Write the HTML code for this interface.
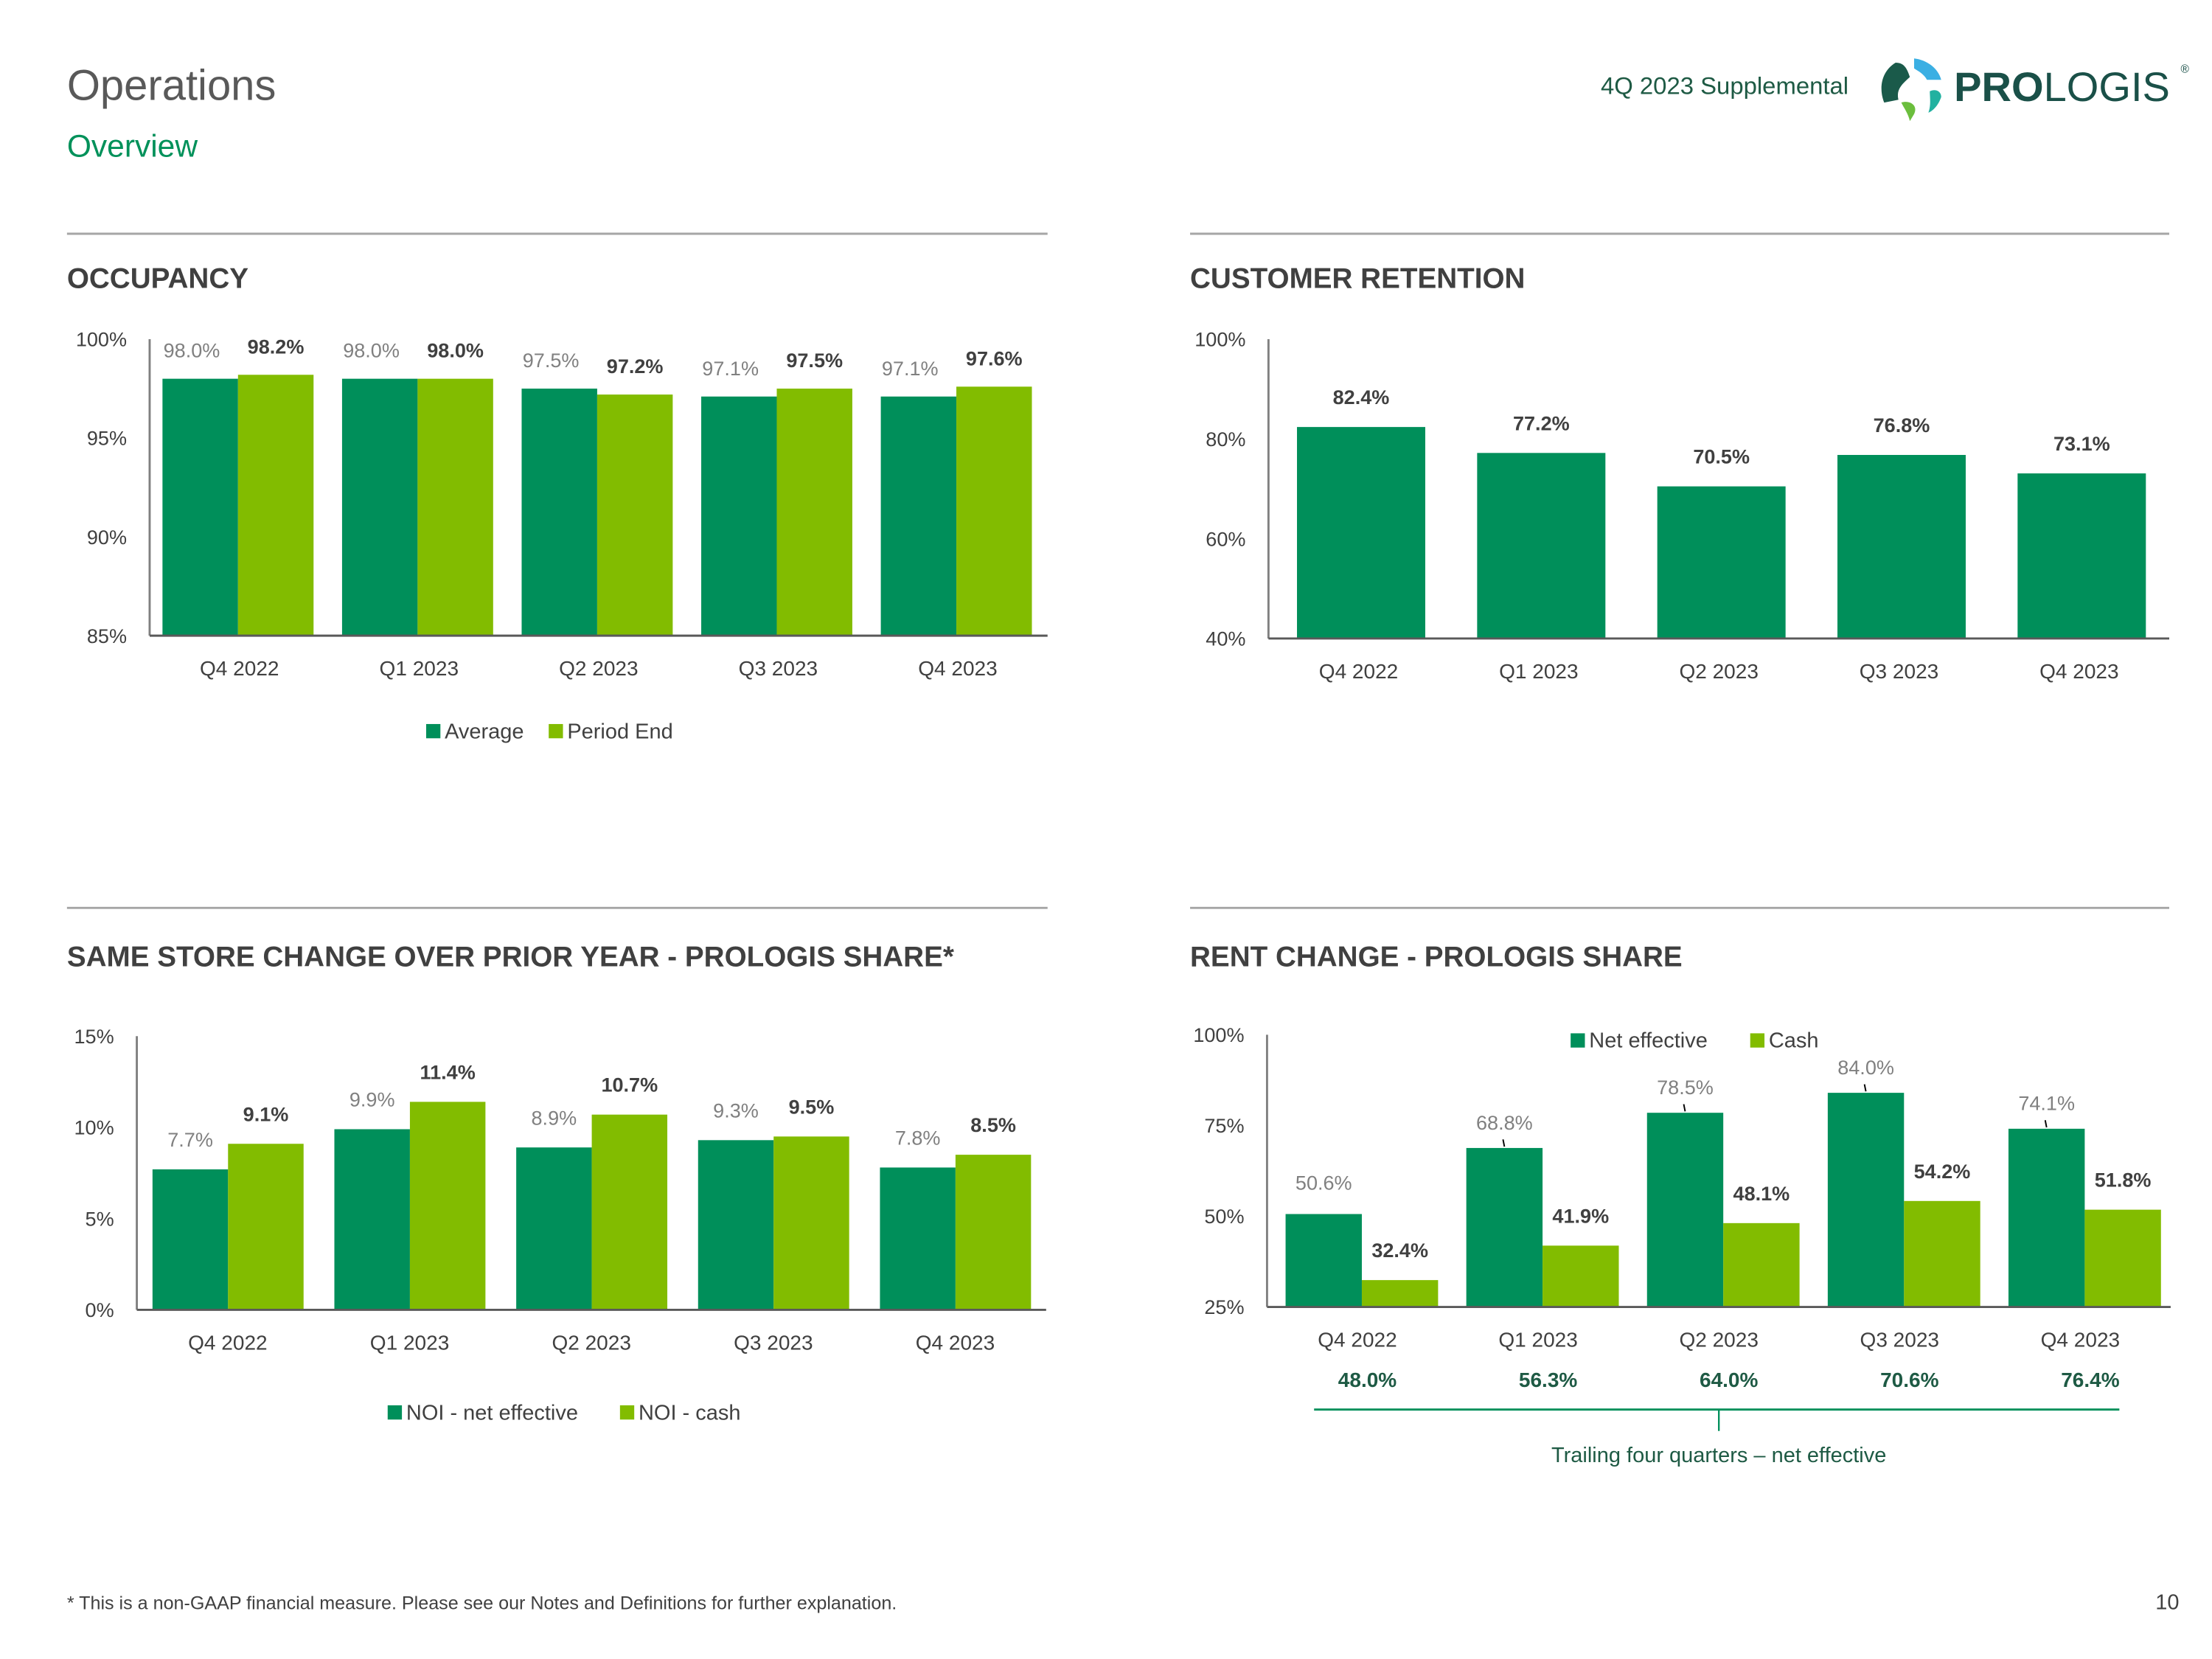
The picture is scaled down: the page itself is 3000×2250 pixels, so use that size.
<!DOCTYPE html>
<html><head><meta charset="utf-8"><style>
html,body{margin:0;padding:0;background:#fff}
svg{display:block;font-family:"Liberation Sans",sans-serif}
</style></head><body>
<svg id="s" width="3000" height="2250" viewBox="0 0 1552 1164" xmlns="http://www.w3.org/2000/svg">
<text x="47" y="70" font-size="30" fill="#595959">Operations</text>
<text x="47" y="110" font-size="22" fill="#00915A">Overview</text>
<text x="1297" y="66" font-size="17" fill="#1E5A44" text-anchor="end">4Q 2023 Supplemental</text>
<g>
<path d="M1330,44 C1320,50 1318,62 1322,72 L1332,70 C1330,62 1336,58 1340,54 C1338,48 1336,44 1330,44Z" fill="#1A5A4A"/>
<path d="M1343,41 C1352,42 1360,48 1362,56 L1352,56 C1350,52 1346,50 1343,48Z" fill="#3BAFE3"/>
<path d="M1354,64 C1358,62 1362,64 1362,68 C1360,74 1356,78 1353,79 C1355,74 1354,68 1354,64Z" fill="#22B1A0"/>
<path d="M1334,72 C1340,70 1346,74 1343,80 L1340,85 C1339,80 1336,76 1334,72Z" fill="#6BBE3D"/>
<text x="1371" y="71" font-size="29" font-weight="bold" fill="#1A5048">PRO<tspan font-weight="normal">LOGIS</tspan></text>
<text x="1530" y="51" font-size="8" fill="#1A5048">®</text>
</g>
<g stroke="#A6A6A6" stroke-width="1.5">
<line x1="47" y1="164" x2="735" y2="164"/><line x1="835" y1="164" x2="1522" y2="164"/>
<line x1="47" y1="637" x2="735" y2="637"/><line x1="835" y1="637" x2="1522" y2="637"/>
</g>
<g font-size="20" font-weight="bold" fill="#404040">
<text x="47" y="202">OCCUPANCY</text>
<text x="835" y="202">CUSTOMER RETENTION</text>
<text x="47" y="678">SAME STORE CHANGE OVER PRIOR YEAR - PROLOGIS SHARE*</text>
<text x="835" y="678">RENT CHANGE - PROLOGIS SHARE</text>
</g>
<text x="47" y="1129" font-size="13" fill="#404040">* This is a non-GAAP financial measure. Please see our Notes and Definitions for further explanation.</text>
<text x="1529" y="1129" font-size="15" fill="#404040" text-anchor="end">10</text>
<g id="charts"></g>
</svg>
<script>
const categories=["Q4 2022","Q1 2023","Q2 2023","Q3 2023","Q4 2023"];
const occAverage=[98.0,98.0,97.5,97.1,97.1];
const occPeriodEnd=[98.2,98.0,97.2,97.5,97.6];
const occTicks=[85,90,95,100];
const retention=[82.4,77.2,70.5,76.8,73.1];
const retTicks=[40,60,80,100];
const noiNet=[7.7,9.9,8.9,9.3,7.8];
const noiCash=[9.1,11.4,10.7,9.5,8.5];
const ssTicks=[0,5,10,15];
const rentNet=[50.6,68.8,78.5,84.0,74.1];
const rentCash=[32.4,41.9,48.1,54.2,51.8];
const rentTicks=[25,50,75,100];
const trailing=[48.0,56.3,64.0,70.6,76.4];

const NS="http://www.w3.org/2000/svg";
const root=document.getElementById('charts');
const DK="#008F5A",LT="#82BC00";
function mk(tag,attrs,parent,txt){const e=document.createElementNS(NS,tag);for(const k in attrs)e.setAttribute(k,attrs[k]);if(txt!==undefined)e.textContent=txt;(parent||root).appendChild(e);return e;}

function chart(cfg){
  const g=mk('g',{});
  
  
  const yS=v=>cfg.y0-(v-cfg.min)/(cfg.max-cfg.min)*(cfg.y0-cfg.y1);
  const gw=(cfg.x1-cfg.x0)/categories.length;
  cfg.ticks.forEach(t=>{
    const tx=mk('text',{x:cfg.x0-16,y:yS(t)+5,'font-size':14,fill:'#404040','text-anchor':'end'},g,t+'%');
    
    
  });
  categories.forEach((c,i)=>{
    const gx=cfg.x0+i*gw;
    cfg.series.forEach((s,j)=>{
      const v=s.values[i];
      const bx=gx+cfg.off+j*cfg.bw;
      const r=mk('rect',{x:bx,y:yS(v),width:cfg.bw,height:cfg.y0-yS(v),fill:s.color},g);
      
      
      const ly=(s.labelY?s.labelY(v,i,yS):yS(v)-15);
      const lx=bx+cfg.bw/2+(s.dx||0);
      const l=mk('text',{x:lx,y:ly,'font-size':14,'font-weight':s.bold?'bold':'normal',fill:s.lc,'text-anchor':'middle'},g,v.toFixed(1)+'%');
      
      
      if(s.leader && i>0){
        mk('line',{x1:lx,y1:yS(v)-1,x2:lx-1,y2:yS(v)-6,stroke:'#000','stroke-width':1},g);
      }
    });
    const cl=mk('text',{x:gx+gw/2,y:cfg.y0+28,'font-size':14.5,fill:'#404040','text-anchor':'middle'},g,c);
    
    
  });
  mk('line',{x1:cfg.x0,y1:cfg.y1,x2:cfg.x0,y2:cfg.y0,stroke:'#808080','stroke-width':1.5},g);
  mk('line',{x1:cfg.x0,y1:cfg.y0,x2:cfg.x1,y2:cfg.y0,stroke:'#595959','stroke-width':1.5},g);
  return {g,yS,gw};
}
function legend(x,y,items,name){
  const g=mk('g',{});
  
  
  let cx=x;
  items.forEach(it=>{
    mk('rect',{x:cx,y:y-10,width:10,height:10,fill:it.c},g);
    const t=mk('text',{x:cx+13,y:y,'font-size':15,fill:'#404040'},g,it.t);
    
    
    cx+=13+it.w;
  });
}
// Occupancy
chart({name:'occupancy-chart',x0:105,x1:735,y0:446,y1:238,min:85,max:100,ticks:occTicks,off:9,bw:53,
  series:[{key:'average',values:occAverage,color:DK,lc:'#808080',dx:-6},{key:'period-end',values:occPeriodEnd,color:LT,lc:'#404040',bold:true,dx:0}]});
legend(299,518,[{c:DK,t:'Average',w:73},{c:LT,t:'Period End',w:80}],'occupancy-legend');
// Retention
chart({name:'retention-chart',x0:890,x1:1522,y0:448,y1:238,min:40,max:100,ticks:retTicks,off:20,bw:90,
  series:[{key:'retention',values:retention,color:DK,lc:'#404040',bold:true,labelY:(v,i,y)=>y(v)-16}]});
// Same store
chart({name:'same-store-chart',x0:96,x1:734,y0:919,y1:727,min:0,max:15,ticks:ssTicks,off:11,bw:53,
  series:[{key:'noi-net',values:noiNet,color:DK,lc:'#808080',dx:0,labelY:(v,i,y)=>y(v)-16},{key:'noi-cash',values:noiCash,color:LT,lc:'#404040',bold:true,labelY:(v,i,y)=>y(v)-16}]});
legend(272,996,[{c:DK,t:'NOI - net effective',w:150},{c:LT,t:'NOI - cash',w:80}],'same-store-legend');
// Rent change
const rc=chart({name:'rent-change-chart',x0:889,x1:1523,y0:917,y1:726,min:25,max:100,ticks:rentTicks,off:13,bw:53.5,
  series:[{key:'rent-net',values:rentNet,color:DK,lc:'#808080',dx:0,leader:true,labelY:(v,i,y)=>y(v)-(i===0?17:13)},{key:'rent-cash',values:rentCash,color:LT,lc:'#404040',bold:true,labelY:(v,i,y)=>y(v)-16}]});
legend(1102,735,[{c:DK,t:'Net effective',w:113},{c:LT,t:'Cash',w:40}],'rent-change-legend');
trailing.forEach((v,i)=>{
  const t=mk('text',{x:889+rc.gw*i+rc.gw/2+7,y:973,'font-size':14.5,'font-weight':'bold',fill:'#1E5A44','text-anchor':'middle'},undefined,v.toFixed(1)+'%');
  
  
});
mk('line',{x1:922,y1:989,x2:1487,y2:989,stroke:'#008F5A','stroke-width':1.5});
mk('line',{x1:1206,y1:989,x2:1206,y2:1004,stroke:'#008F5A','stroke-width':1.2});
const tt=mk('text',{x:1206,y:1026,'font-size':15,fill:'#1E5A44','text-anchor':'middle'},undefined,'Trailing four quarters – net effective');


</script>
</body></html>
